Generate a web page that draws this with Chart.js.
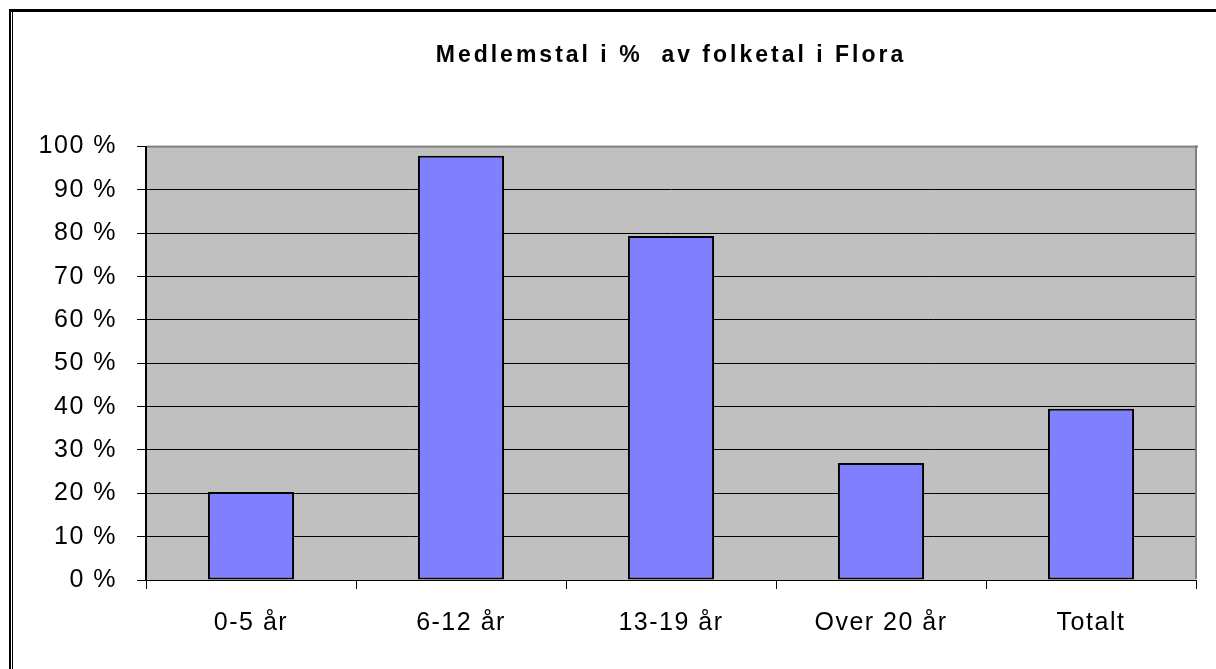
<!DOCTYPE html>
<html>
<head>
<meta charset="utf-8">
<script src="https://cdn.jsdelivr.net/npm/chart.js@4/dist/chart.umd.min.js"></script>
<style>
  html, body { margin: 0; padding: 0; background: #fff; }
  #wrap { width: 1216px; height: 669px; }
</style>
</head>
<body>
<div id="wrap"><canvas id="chart" width="1216" height="669"></canvas></div>
<script>
// ===== Data =====
const categories = ["0-5 år", "6-12 år", "13-19 år", "Over 20 år", "Totalt"];
const memberShare = [20.3, 97.9, 79.4, 27.0, 39.5];
const titleText = "Medlemstal i %  av folketal i Flora";

const FONT = "Arial, 'Liberation Sans', sans-serif";

// ===== Plot background, frame, wide text =====
const excelLook = {
    id: "excelLook",
    afterInit(chart) {
        // the old Excel title is spaced out wider than the tick labels
        const tb = chart.titleBlock;
        if (tb && !tb._wide) {
            const orig = tb.draw.bind(tb);
            tb.draw = function () {
                const c = chart.ctx;
                const prev = c.letterSpacing;
                c.letterSpacing = "3px";
                orig();
                c.letterSpacing = prev;
            };
            tb._wide = true;
        }
    },
    beforeDraw(chart) {
        const { ctx, chartArea: a } = chart;
        ctx.letterSpacing = "1.5px";
        ctx.save();
        ctx.fillStyle = "#fff";
        ctx.fillRect(0, 0, chart.width, chart.height);
        ctx.fillStyle = "#c0c0c0";
        ctx.fillRect(a.left, a.top, a.right - a.left, a.bottom - a.top);
        // outer frame
        ctx.fillStyle = "#000";
        ctx.fillRect(9, 9, chart.width - 9, 3);
        ctx.fillRect(9, 9, 2, chart.height - 9);
        ctx.fillRect(12, 12, 1, chart.height - 12);
        ctx.restore();
    },
    afterDraw(chart) {
        const { ctx, chartArea: a } = chart;
        ctx.save();
        ctx.fillStyle = "#808080";
        ctx.fillRect(a.left + 1, a.top - 1, a.right - a.left + 1, 2);
        ctx.fillRect(a.right - 1, a.top - 1, 2, a.bottom - a.top);
        ctx.restore();
    }
};

const ctx = document.getElementById("chart").getContext("2d");
new Chart(ctx, {
    type: "bar",
    data: {
        labels: categories,
        datasets: [{
            data: memberShare,
            backgroundColor: "#8080ff",
            borderColor: "#000",
            borderWidth: 2,
            borderSkipped: false,
            categoryPercentage: 1,
            barPercentage: 0.41
        }]
    },
    options: {
        responsive: false,
        animation: false,
        layout: { padding: { left: 16, right: 20, top: 0, bottom: 0 } },
        plugins: {
            legend: { display: false },
            tooltip: { enabled: false },
            title: {
                display: true,
                text: titleText,
                fullSize: false,
                color: "#000",
                font: { family: FONT, size: 23, weight: "bold" },
                padding: { top: 42, bottom: 77 }
            }
        },
        scales: {
            x: {
                grid: { display: true, drawOnChartArea: false, color: "#000", tickLength: 9, offset: true },
                border: { color: "#000", width: 1 },
                ticks: {
                    color: "#000",
                    padding: 19,
                    font: { family: FONT, size: 25 }
                },
                afterFit(scale) { scale.height = 89; }
            },
            y: {
                min: 0,
                max: 100,
                grid: { color: "#000", lineWidth: 1, tickLength: 9 },
                border: { color: "#000", width: 2 },
                ticks: {
                    stepSize: 10,
                    color: "#000",
                    padding: 20,
                    font: { family: FONT, size: 25 },
                    callback: v => v + " %"
                },
                afterFit(scale) { scale.width = 130; }
            }
        }
    },
    plugins: [excelLook]
});
</script>
</body>
</html>
